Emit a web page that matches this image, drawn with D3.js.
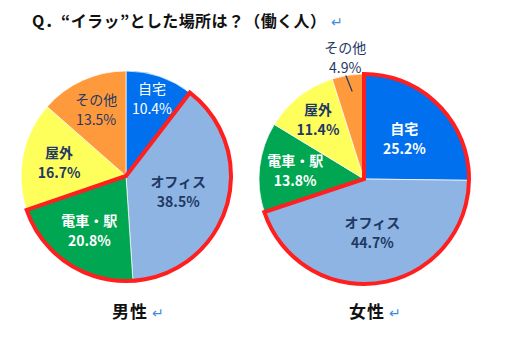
<!DOCTYPE html>
<html><head><meta charset="utf-8">
<script src="https://cdn.jsdelivr.net/npm/d3@7"></script>
<style>
html,body{margin:0;padding:0;background:#fff;}
svg{display:block;}
text{font-family:"Noto Sans CJK JP","Noto Sans",sans-serif;}
</style></head>
<body>
<svg id="c" width="525" height="337"></svg>
<script>
// ---- data ----
const title = "Q．“イラッ”とした場所は？（働く人）";
const categories = ["自宅", "オフィス", "電車・駅", "屋外", "その他"];
const maleValues = [10.4, 38.5, 20.8, 16.7, 13.5];
const femaleValues = [25.2, 44.7, 13.8, 11.4, 4.9];
const groupNames = ["男性", "女性"];
// which slices are outlined in red, per pie
const maleHighlight = ["オフィス", "電車・駅"];
const femaleHighlight = ["自宅", "オフィス"];

// ---- style / layout ----
const colors = {"自宅":"#0070EE","オフィス":"#8DB4E2","電車・駅":"#00A651","屋外":"#FFFF5C","その他":"#FF9A3C"};
const navy = "#1F3864";
const textColor = {"自宅":"#ffffff","オフィス":navy,"電車・駅":"#ffffff","屋外":navy,"その他":navy};
const pies = [
  {values: maleValues, name: groupNames[0], highlight: maleHighlight, cx: 126, cy: 176, r: 105,
   labelR: [0.77, 0.52, 0.63, 0.65, 0.69], bold: [false, true, true, true, false], outside: [],
   nameX: 130},
  {values: femaleValues, name: groupNames[1], highlight: femaleHighlight, cx: 364, cy: 179, r: 105,
   labelR: [0.54, 0.52, 0.66, 0.71, 1.17], bold: [true, true, true, true, false], outside: [4],
   nameX: 367}
];

const svg = d3.select("#c");

// title
const tt = svg.append("text").attr("x", 32).attr("y", 27)
  .attr("font-size", 16).attr("font-weight", "bold").attr("fill", "#111")
  .attr("letter-spacing", 0.4)
  .text(title);
const tb = tt.node().getBBox();
svg.append("text").attr("x", tb.x + tb.width + 5).attr("y", 27).attr("font-size", 14)
  .attr("font-family", "DejaVu Sans").attr("fill", "#3A8EDC").text("↵");

const pieGen = d3.pie().sort(null).value(d => d.v);

pies.forEach(p => {
  const data = p.values.map((v, i) => ({cat: categories[i], v, i}));
  const arcs = pieGen(data);
  const arc = d3.arc().innerRadius(0).outerRadius(p.r);
  const g = svg.append("g").attr("transform", `translate(${p.cx},${p.cy})`);

  g.selectAll("path.slice").data(arcs).join("path")
    .attr("class", "slice")
    .attr("d", arc)
    .attr("fill", d => colors[d.data.cat])
    .attr("stroke", "#ffffff").attr("stroke-opacity", 0.7).attr("stroke-width", 1);

  // red outline around highlighted slices
  const hl = arcs.filter(a => p.highlight.includes(a.data.cat));
  const hArc = {startAngle: d3.min(hl, a => a.startAngle), endAngle: d3.max(hl, a => a.endAngle)};
  g.append("path").attr("d", arc(hArc))
    .attr("fill", "none").attr("stroke", "#FF1F1F").attr("stroke-width", 4)
    .attr("stroke-linejoin", "miter");

  // labels
  arcs.forEach((a, k) => {
    const mid = (a.startAngle + a.endAngle) / 2;
    const rr = p.r * p.labelR[k];
    const x = Math.sin(mid) * rr, y = -Math.cos(mid) * rr;
    const isOut = p.outside.includes(k);
    const col = isOut ? navy : textColor[a.data.cat];
    const txt = g.append("text").attr("text-anchor", "middle")
      .attr("fill", col).attr("font-size", 14)
      .attr("font-weight", p.bold[k] ? "bold" : "normal");
    txt.append("tspan").attr("x", x).attr("y", y - 5).text(a.data.cat);
    txt.append("tspan").attr("x", x).attr("y", y + 15).text(a.data.v.toFixed(1) + "%");
    if (isOut) {
      const r1 = p.r * 0.84, r2 = p.r * 1.0;
      g.append("line")
        .attr("x1", Math.sin(mid - 0.02) * r2).attr("y1", -Math.cos(mid - 0.02) * r2)
        .attr("x2", Math.sin(mid + 0.02) * r1).attr("y2", -Math.cos(mid + 0.02) * r1)
        .attr("stroke", navy).attr("stroke-width", 1.2);
    }
  });

  // group name
  svg.append("text").attr("x", p.nameX).attr("y", 318).attr("text-anchor", "middle")
    .attr("font-size", 17).attr("font-weight", "bold").attr("fill", "#111")
    .attr("letter-spacing", 1).text(p.name);
  svg.append("text").attr("x", p.nameX + 22).attr("y", 318).attr("font-size", 14)
    .attr("font-family", "DejaVu Sans").attr("fill", "#3A8EDC").text("↵");
});
</script>
</body></html>
